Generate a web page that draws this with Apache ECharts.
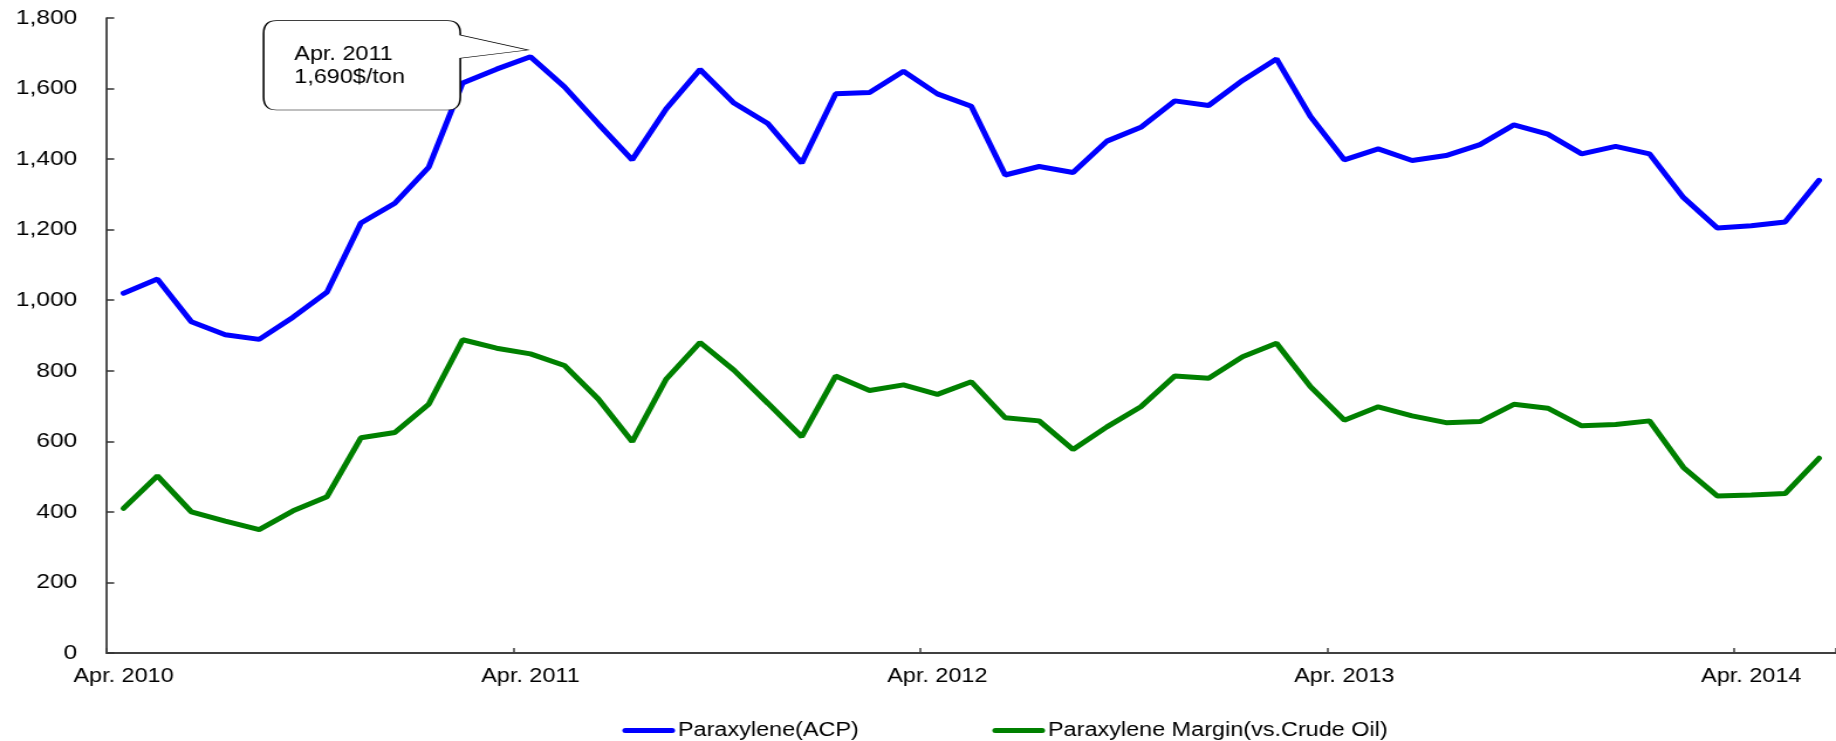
<!DOCTYPE html>
<html>
<head>
<meta charset="utf-8">
<title>Paraxylene price and margin</title>
<script src="https://cdn.jsdelivr.net/npm/echarts@6/dist/echarts.min.js"></script>
<style>
  html, body { margin: 0; padding: 0; background: #fff; overflow: hidden; }
  /* The chart is laid out on a 1568px-wide canvas and widened to 1836px, which gives the wide lettering */
  #chart { width: 1568px; height: 741px; transform: scaleX(1.170918); transform-origin: 0 0; }
</style>
</head>
<body>
<div id="chart"></div>
<script>
// Monthly categories, Apr. 2010 - Jun. 2014
const months = [
  'Apr. 2010','May 2010','Jun. 2010','Jul. 2010','Aug. 2010','Sep. 2010','Oct. 2010','Nov. 2010','Dec. 2010',
  'Jan. 2011','Feb. 2011','Mar. 2011','Apr. 2011','May 2011','Jun. 2011','Jul. 2011','Aug. 2011','Sep. 2011','Oct. 2011','Nov. 2011','Dec. 2011',
  'Jan. 2012','Feb. 2012','Mar. 2012','Apr. 2012','May 2012','Jun. 2012','Jul. 2012','Aug. 2012','Sep. 2012','Oct. 2012','Nov. 2012','Dec. 2012',
  'Jan. 2013','Feb. 2013','Mar. 2013','Apr. 2013','May 2013','Jun. 2013','Jul. 2013','Aug. 2013','Sep. 2013','Oct. 2013','Nov. 2013','Dec. 2013',
  'Jan. 2014','Feb. 2014','Mar. 2014','Apr. 2014','May 2014','Jun. 2014'
];

// Paraxylene (ACP) price, $/ton
const paraxylene = [
  1020,1060,939,902,889,952,1023,1219,1275,1377,1616,1655,1690,1605,1500,1398,1542,1654,1559,1501,1389,
  1585,1589,1649,1585,1550,1355,1379,1362,1451,1490,1565,1552,1623,1684,1521,1398,1429,1396,1410,1441,
  1497,1471,1415,1436,1415,1291,1205,1211,1222,1340
];

// Paraxylene margin vs. crude oil, $/ton
const pxMargin = [
  410,502,400,374,350,403,443,610,625,705,888,864,848,815,720,599,776,880,802,708,613,
  785,744,760,733,769,667,658,577,641,698,785,779,840,878,755,660,698,672,653,656,
  705,694,644,648,658,526,445,448,452,552
];

const seriesNames = ['Paraxylene(ACP)', 'Paraxylene Margin(vs.Crude Oil)'];
const calloutIndex = 12; // Apr. 2011 peak

const FONT = '"Liberation Sans", Arial, sans-serif';
const fmt = v => Number(v).toLocaleString('en-US');

// Speech-bubble outline: rounded box with a pointer on its right side
const bubblePath = 'path://M11,0 H157 Q168,0 168,13 V14.3 L225.8,29.3 L168,37.6 V76.3 Q168,89.3 157,89.3 H11 Q0,89.3 0,76.3 V13 Q0,0 11,0 Z';

const chart = echarts.init(document.getElementById('chart'), null, { renderer: 'canvas' });

chart.setOption({
  animation: false,
  backgroundColor: '#ffffff',
  textStyle: { fontFamily: FONT },
  grid: { left: 91, right: -2, top: 18, bottom: 88, containLabel: false },
  legend: {
    data: seriesNames,
    left: 531.5,
    top: 720.5,
    padding: 0,
    itemWidth: 40,
    itemHeight: 14,
    itemGap: 114,
    lineStyle: { width: 5, cap: 'round' },
    itemStyle: { opacity: 0 },
    textStyle: { fontFamily: FONT, fontSize: 20, color: '#000', lineHeight: 20 }
  },
  xAxis: {
    type: 'category',
    data: months,
    boundaryGap: true,
    axisLine: { lineStyle: { color: '#404040', width: 2 } },
    axisTick: { show: true, inside: true, length: 5, interval: 11, lineStyle: { color: '#404040', width: 1.5 } },
    axisLabel: { interval: 11, margin: 13, fontSize: 20, color: '#000', fontFamily: FONT },
    splitLine: { show: false }
  },
  yAxis: {
    type: 'value',
    min: 0,
    max: 1800,
    interval: 200,
    axisLine: { show: true, lineStyle: { color: '#333', width: 1.7 } },
    axisTick: { show: true, inside: true, length: 6.5, lineStyle: { color: '#333', width: 1.5 } },
    axisLabel: { margin: 25, fontSize: 21, color: '#000', fontFamily: FONT, formatter: v => fmt(v) },
    splitLine: { show: false }
  },
  series: [
    {
      name: seriesNames[0],
      type: 'line',
      data: paraxylene,
      symbol: 'none',
      color: '#0000ff',
      lineStyle: { color: '#0000ff', width: 5, cap: 'round' },
      emphasis: { disabled: true },
      markPoint: {
        silent: true,
        symbol: bubblePath,
        symbolSize: [225.8, 89.3],
        symbolOffset: [-115, 8.5],
        itemStyle: { color: '#ffffff', borderColor: '#000000', borderWidth: 1 },
        label: {
          show: true,
          position: [27, 23],
          align: 'left',
          verticalAlign: 'top',
          fontFamily: FONT,
          fontSize: 20,
          lineHeight: 23,
          color: '#000',
          formatter: p => months[calloutIndex] + '\n' + fmt(p.value) + '$/ton'
        },
        data: [{ coord: [calloutIndex, paraxylene[calloutIndex]], value: paraxylene[calloutIndex] }]
      }
    },
    {
      name: seriesNames[1],
      type: 'line',
      data: pxMargin,
      symbol: 'none',
      color: '#008000',
      lineStyle: { color: '#008000', width: 5, cap: 'round' },
      emphasis: { disabled: true }
    }
  ]
});
</script>
</body>
</html>
